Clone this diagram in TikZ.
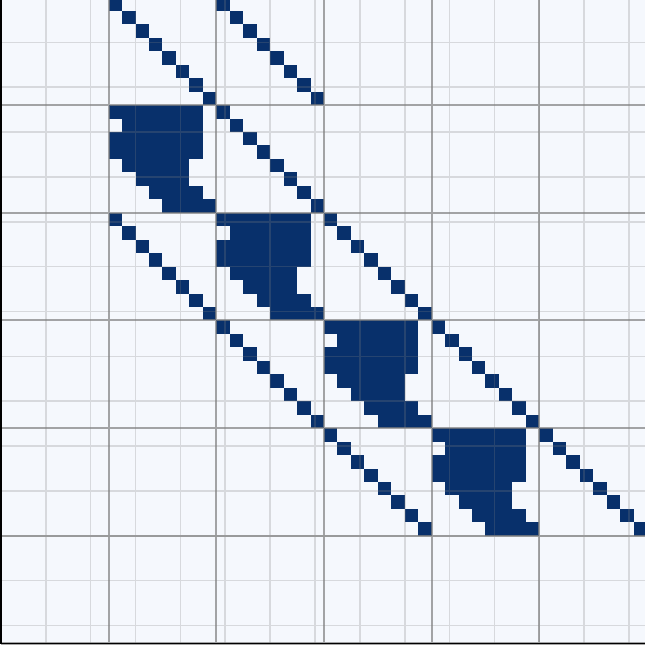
\documentclass[tikz,border=0pt]{standalone}
\usepackage{tikz}
\definecolor{cellc}{HTML}{08306B}
\definecolor{bgc}{HTML}{F5F8FD}
\tikzset{
  cellfill/.style={fill=cellc},
  minorgrid/.style={draw=gray, opacity=0.25, line width=1.0pt},
  majorgrid/.style={draw=gray, opacity=0.7, line width=1.3pt},
  axisline/.style={draw=black, line width=1.2pt}
}
\begin{document}
\begin{tikzpicture}[x=0.3cm,y=0.3cm]
\useasboundingbox (-0.07,-48.41) rectangle (47.85,-0.19);
\clip (-0.07,-48.41) rectangle (47.85,-0.19);
\fill[white] (-0.07,-48.41) rectangle (47.85,-0.19);
\fill[bgc] (0,0) rectangle (48,-48);
% off-diagonal identity-like blocks
\foreach \R/\C in {0/1,0/2,1/2,2/1,2/3,3/2,3/4,4/3,4/5}{
  \foreach \k in {0,...,7}{
    \fill[cellfill] ({8*\C+\k},{-8*\R-\k}) rectangle ++(1,-1);
  }
}
% dense diagonal blocks
\foreach \b in {1,...,4}{
  \foreach \r/\a/\e in {0/0/6,1/1/6,2/0/6,3/0/6,4/1/5,5/2/5,6/3/6,7/4/7}{
    \fill[cellfill] ({8*\b+\a},{-8*\b-\r}) rectangle ({8*\b+\e+1},{-8*\b-\r-1});
  }
}
\draw[minorgrid] (0,-48) grid (48,0);
\draw[majorgrid, step=8] (0,-48) grid (48,0);
\draw[axisline] (0,0) -- (0,-48) -- (48,-48);
\end{tikzpicture}
\end{document}
